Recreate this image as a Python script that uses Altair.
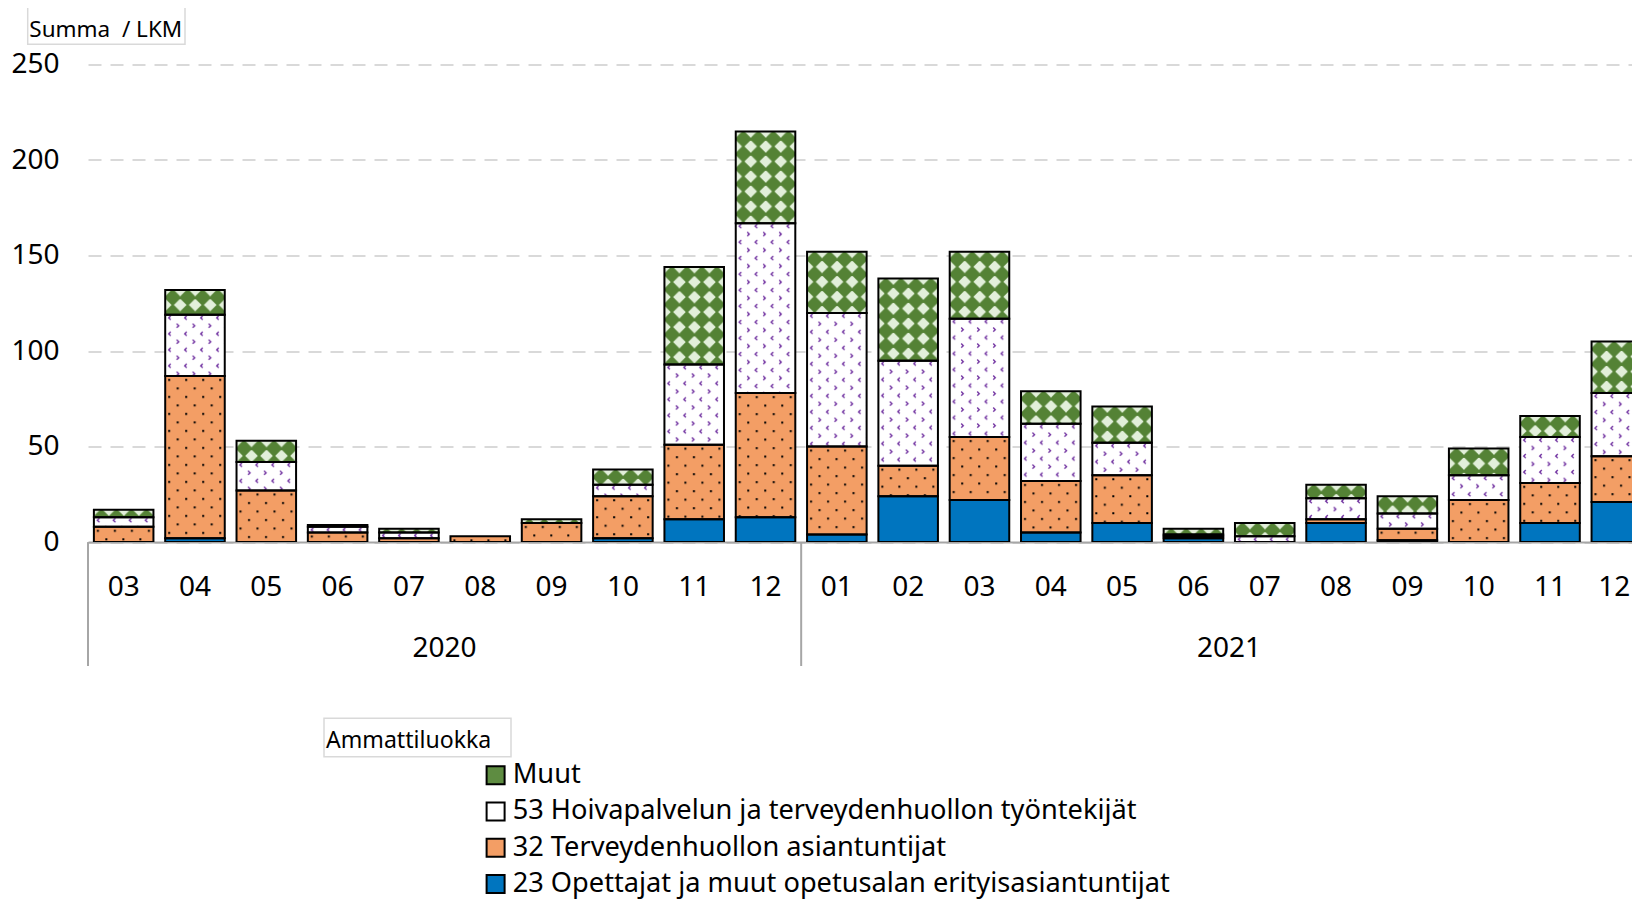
import urllib.parse
import altair as alt
import pandas as pd

# ---------------- data ----------------
years = ["2020", "2021"]
months_2020 = ["03", "04", "05", "06", "07", "08", "09", "10", "11", "12"]
months_2021 = ["01", "02", "03", "04", "05", "06", "07", "08", "09", "10", "11", "12"]

categories = [
    "Muut",
    "53 Hoivapalvelun ja terveydenhuollon työntekijät",
    "32 Terveydenhuollon asiantuntijat",
    "23 Opettajat ja muut opetusalan erityisasiantuntijat",
]
stack_order = [3, 2, 1, 0]  # 23 at the bottom, Muut on top

v_muut = [4, 13, 11, 1, 2, 0, 2, 8, 51, 48, 32, 43, 35, 17, 19, 3, 7, 7, 9, 14, 11, 27]
v_53 = [5, 32, 15, 3, 3, 0, 0, 6, 42, 89, 70, 55, 62, 30, 17, 1, 3, 11, 8, 13, 24, 33]
v_32 = [8, 85, 27, 5, 2, 3, 10, 22, 39, 65, 46, 16, 33, 27, 25, 1, 0, 2, 6, 22, 21, 24]
v_23 = [0, 2, 0, 0, 0, 0, 0, 2, 12, 13, 4, 24, 22, 5, 10, 2, 0, 10, 1, 0, 10, 21]

y_ticks = [0, 50, 100, 150, 200, 250]
y_title = "Summa\u00a0 / LKM"
legend_title = "Ammattiluokka"

# ---------------- tables ----------------
periods = [f"2020-{m}" for m in months_2020] + [f"2021-{m}" for m in months_2021]
series = [v_muut, v_53, v_32, v_23]
rows = []
for cat, order, vals in zip(categories, stack_order, series):
    for p, v in zip(periods, vals):
        rows.append({"period": p, "cat": cat, "order": order, "value": v})
df = pd.DataFrame(rows)

year_months = {"2020": [f"2020-{m}" for m in months_2020], "2021": [f"2021-{m}" for m in months_2021]}
year_df = pd.DataFrame({
    "year": years,
    "first": [year_months[y][0] for y in years],
    "center": [year_months[y][len(year_months[y]) // 2] for y in years],
})
one = pd.DataFrame({"k": [0]})

# ---------------- styles ----------------
FONT = "Noto Sans"
W, H = 1544, 477.5
RANGE_END = 1569
GAP_HALF = -5.9
colors = ["#5E8C41", "#FFFFFF", "#F39E65", "#0075BF"]


def pattern_uri(body):
    svg = ("<svg xmlns='http://www.w3.org/2000/svg'><defs><pattern id='p' patternUnits='userSpaceOnUse' "
           + body + "</pattern></defs><rect width='100%' height='100%' fill='url(#p)'/></svg>")
    return "data:image/svg+xml;charset=utf-8," + urllib.parse.quote(svg)


PAT_MUUT = pattern_uri(
    "width='15' height='15'><rect width='15' height='15' fill='#E2EFDA'/>"
    "<path d='M7.5 -1.2L16.2 7.5L7.5 16.2L-1.2 7.5Z' fill='#548235'/>")
PAT_53 = pattern_uri(
    "width='16' height='16'><rect width='16' height='16' fill='#FFFFFF'/>"
    "<path d='M5.5 1L3.5 3L5.5 5M11.5 9L13.5 11L11.5 13' "
    "fill='none' stroke='#7030A0' stroke-width='1.4'/>")
PAT_32 = pattern_uri(
    "width='17' height='17'><rect width='17' height='17' fill='#F39E65'/>"
    "<rect x='3' y='3' width='2' height='2' fill='#000'/>"
    "<rect x='11.5' y='11.5' width='2' height='2' fill='#000'/>")
patterns = {categories[0]: PAT_MUUT, categories[1]: PAT_53, categories[2]: PAT_32}

last_period = periods[-1]
x_scale = alt.Scale(domain=periods, range=[0, RANGE_END], paddingInner=0.165, paddingOuter=0.0825)
x_axis = alt.Axis(title=None, labelExpr="substring(datum.label, 5)", labelAngle=0,
                  labelBaseline="middle", labelAlign="center",
                  labelOffset={"condition": {"test": f"datum.value == '{last_period}'", "value": -7},
                               "value": 0},
                  labelPadding=45, ticks=False, grid=False, domainColor="#A6A6A6", domainWidth=2,
                  labelFontSize=28, labelColor="#000000", labelFont=FONT, labelBound=False,
                  labelOverlap=False)
y_scale = alt.Scale(domain=[0, 250])
y_axis = alt.Axis(title=None, values=y_ticks, grid=True, gridColor="#D9D9D9", gridDash=[13, 9],
                  gridWidth=2, domain=False, ticks=False, labelPadding=29, labelFontSize=28,
                  labelColor="#000000", labelFont=FONT)


def X(field="period", **kw):
    return alt.X(field=field, type="nominal", scale=x_scale, axis=x_axis, **kw)


base = (
    alt.Chart(df)
    .transform_filter("datum.value > 0")
    .transform_window(cum="sum(value)", groupby=["period"], sort=[alt.SortField("order")])
    .transform_calculate(y0="datum.cum - datum.value")
)

bars = base.mark_bar(clip=True).encode(
    x=X(),
    y=alt.Y("cum:Q", scale=y_scale, axis=y_axis),
    y2="y0:Q",
    color=alt.Color(
        "cat:N",
        scale=alt.Scale(domain=categories, range=colors),
        legend=alt.Legend(orient="none", legendX=394, legendY=697, title=None, direction="vertical",
                          symbolType="square", symbolSize=324, symbolStrokeColor="#000000",
                          symbolStrokeWidth=2, symbolOpacity=1, labelFontSize=27.2, labelFont=FONT,
                          labelColor="#000000", labelOffset=3.5, rowPadding=8.3, labelLimit=1000,
                          padding=0),
    ),
)

images = [
    base.transform_filter(alt.datum.cat == cat).mark_image(aspect=False, clip=True).encode(
        x=X(),
        y=alt.Y("cum:Q", scale=y_scale, axis=y_axis),
        y2="y0:Q",
        url=alt.value(uri),
    )
    for cat, uri in patterns.items()
]

outlines = base.mark_bar(clip=True, fillOpacity=0, stroke="#000000", strokeWidth=2).encode(
    x=X(),
    y=alt.Y("cum:Q", scale=y_scale, axis=y_axis),
    y2="y0:Q",
)

dividers = alt.Chart(year_df).mark_rule(xOffset=GAP_HALF, color="#A6A6A6", strokeWidth=2).encode(
    x=X("first", bandPosition=0),
    y=alt.value(H),
    y2=alt.value(601.4),
)

year_text = alt.Chart(year_df).mark_text(xOffset=GAP_HALF, baseline="middle", align="center",
                                         fontSize=28, font=FONT, color="#000000").encode(
    x=X("center", bandPosition=0),
    y=alt.value(584.6),
    text="year:N",
)

title_box = alt.Chart(one).mark_rect(fill="#FFFFFF", stroke="#D9D9D9", strokeWidth=1.5).encode(
    x=alt.value(-60.3), x2=alt.value(97), y=alt.value(-57.9), y2=alt.value(-20.3))
title_text = alt.Chart(one).mark_text(align="left", baseline="alphabetic", fontSize=22.5, font=FONT,
                                      color="#000000").encode(
    x=alt.value(-58.7), y=alt.value(-27.9), text=alt.value(y_title))

leg_box = alt.Chart(one).mark_rect(fill="#FFFFFF", stroke="#D9D9D9", strokeWidth=1.5).encode(
    x=alt.value(236), x2=alt.value(423), y=alt.value(653.7), y2=alt.value(692.1))
leg_text = alt.Chart(one).mark_text(align="left", baseline="alphabetic", fontSize=23.1, font=FONT,
                                    color="#000000").encode(
    x=alt.value(238), y=alt.value(683.7), text=alt.value(legend_title))

chart = (
    alt.layer(bars, *images, outlines, dividers, year_text, title_box, title_text, leg_box, leg_text)
    .properties(
        width=W,
        height=H,
        autosize=alt.AutoSizeParams(type="none"),
        padding={"left": 80, "top": 56.6, "right": 0, "bottom": 357.5},
    )
    .configure(font=FONT)
    .configure_view(stroke=None)
)

chart.save("out.html", embed_options={"renderer": "svg", "actions": False})
